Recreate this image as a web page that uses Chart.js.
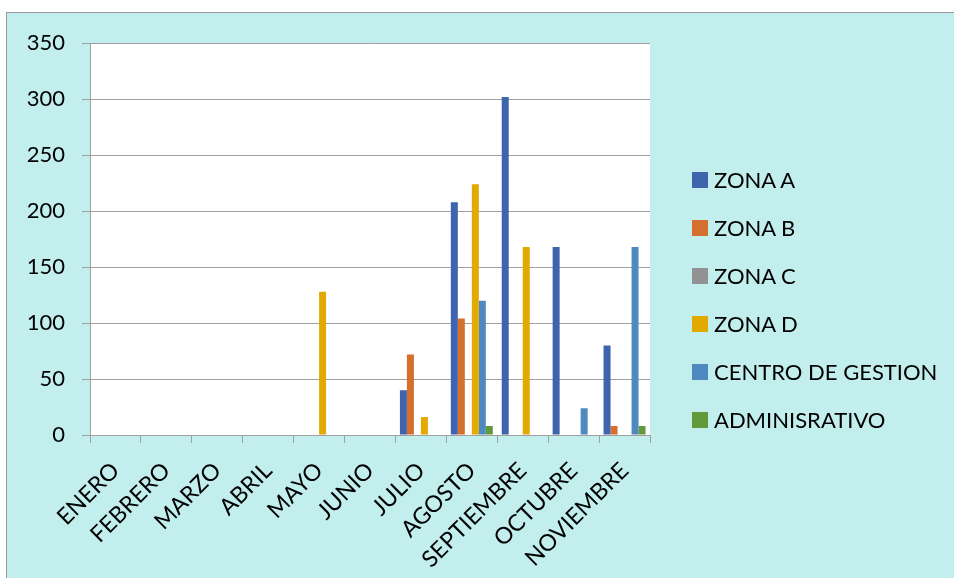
<!DOCTYPE html>
<html>
<head>
<meta charset="utf-8">
<script src="https://cdn.jsdelivr.net/npm/chart.js@4/dist/chart.umd.min.js"></script>
<style>
  body { margin:0; background:#ffffff; font-family:Lato, 'Open Sans', sans-serif; }
  #box { position:absolute; left:6px; top:12px; width:948px; height:566px;
         background:#c2eeee; border-top:1px solid #9a9a9a; border-left:1px solid #9a9a9a; box-sizing:border-box; }
  #zonaChart { position:absolute; left:0; top:0; }
  #legend { position:absolute; left:692px; top:172px; }
  .item { position:relative; height:48px; }
  .item span.sq { position:absolute; left:0; top:0; width:16px; height:16px; }
  .item span.tx { position:absolute; left:22px; top:-7px; font-size:22px; line-height:30px; color:#000; white-space:nowrap; }
</style>
</head>
<body>
<div id="box"><canvas id="zonaChart" width="947" height="565"></canvas></div>
<div id="legend"></div>
<script>
 // meses y valores por zona
 var meses = ['ENERO','FEBRERO','MARZO','ABRIL','MAYO','JUNIO','JULIO','AGOSTO','SEPTIEMBRE','OCTUBRE','NOVIEMBRE'];
 var zonaA  = [0,0,0,0,0,0,40,208,302,168,80];
 var zonaB  = [0,0,0,0,0,0,72,104,0,0,8];
 var zonaC  = [0,0,0,0,0,0,0,0,0,0,0];
 var zonaD  = [0,0,0,0,128,0,16,224,168,0,0];
 var centro = [0,0,0,0,0,0,0,120,0,24,168];
 var admin  = [0,0,0,0,0,0,0,8,0,0,8];
 var yTicks = [0,50,100,150,200,250,300,350];

 var fuente = "Lato, 'Open Sans', sans-serif";

 // fondo blanco solo en el area del grafico
 var plotBg = {
    id : 'plotBg',
    beforeDraw : function(chart){
       var a = chart.chartArea, c = chart.ctx;
       c.save();
       c.fillStyle = '#ffffff';
       c.fillRect(a.left, a.top, a.right - a.left, a.bottom - a.top);
       c.restore();
    }
 };

 function serie(label, data, color){
    return { label : label, data : data, backgroundColor : color, borderWidth : 0 };
 }

 var ctx = document.getElementById('zonaChart').getContext('2d');
 var MyChart = new Chart(ctx, {
    type : 'bar',
    plugins : [plotBg],
    data : {
       labels : meses,
       datasets : [
          serie('ZONA A', zonaA, '#3e64ad'),
          serie('ZONA B', zonaB, '#d56f2d'),
          serie('ZONA C', zonaC, '#929292'),
          serie('ZONA D', zonaD, '#e2a900'),
          serie('CENTRO DE GESTION', centro, '#4e89c0'),
          serie('ADMINISRATIVO', admin, '#629a3b')
       ]
    },
    options : {
       responsive : false,
       animation : false,
       maintainAspectRatio : false,
       layout : { padding : { left : 0, top : 27, right : 304, bottom : 0 } },
       datasets : { bar : { categoryPercentage : 0.825, barPercentage : 1 } },
       plugins : {
          tooltip : { enabled : false },
          legend : { display : false }
       },
       scales : {
          x : {
             afterFit : function(axis){ axis.height = 143; },
             grid : { drawOnChartArea : false, drawTicks : true, tickLength : 8, color : '#a0a0a0', lineWidth : 1 },
             border : { color : '#a0a0a0', width : 1 },
             ticks : { color : '#000000', font : { family : fuente, size : 23 }, minRotation : 45, maxRotation : 45, padding : 14 }
          },
          y : {
             min : 0,
             max : 350,
             afterBuildTicks : function(axis){ axis.ticks = yTicks.map(function(v){ return { value : v }; }); },
             afterFit : function(axis){ axis.width = 83; },
             grid : { color : '#a0a0a0', lineWidth : 1, tickLength : 8 },
             border : { color : '#a0a0a0', width : 1 },
             ticks : { color : '#000000', font : { family : fuente, size : 22 }, padding : 17 }
          }
       }
    }
 });

 // leyenda a la derecha
 var leg = document.getElementById('legend');
 MyChart.data.datasets.forEach(function(ds){
    var it = document.createElement('div');
    it.className = 'item';
    it.innerHTML = '<span class="sq" style="background:' + ds.backgroundColor + '"></span><span class="tx">' + ds.label + '</span>';
    leg.appendChild(it);
 });
</script>
</body>
</html>
